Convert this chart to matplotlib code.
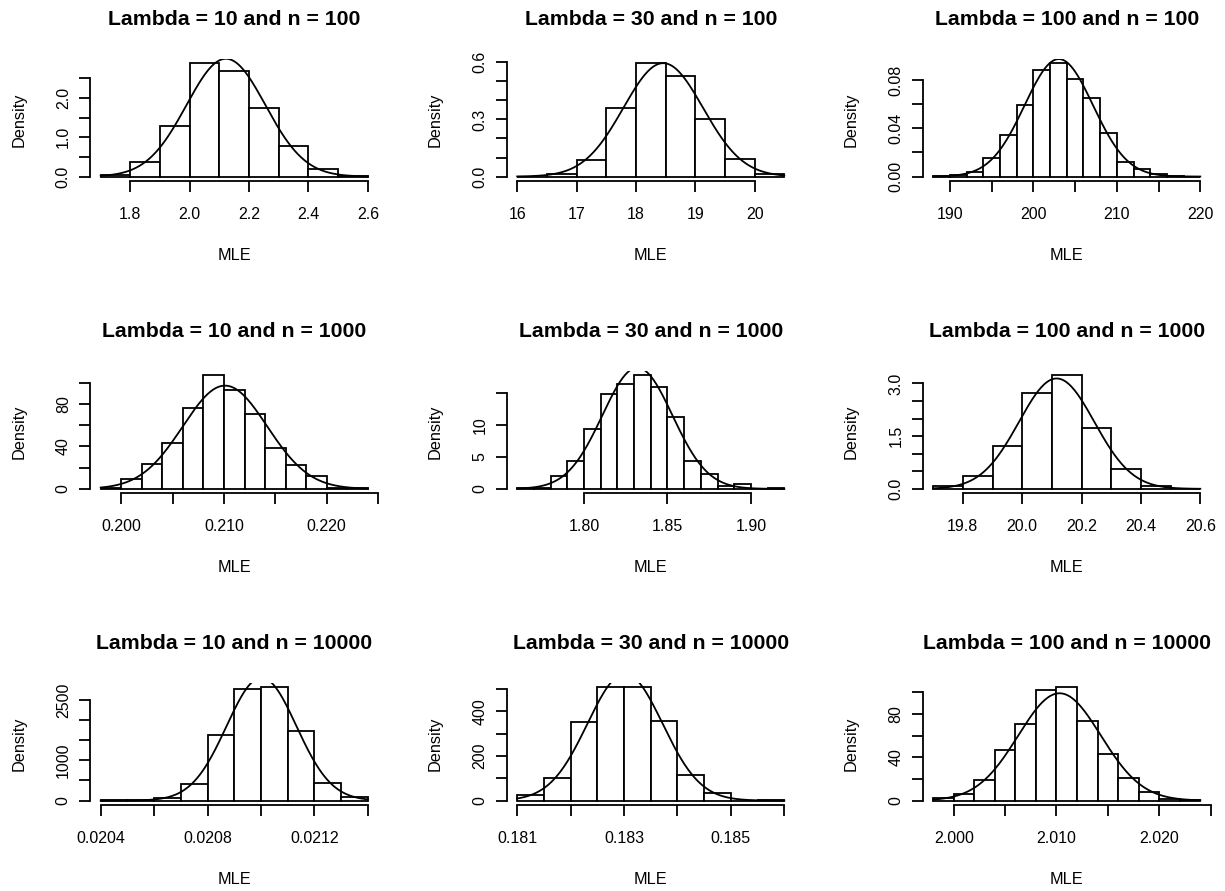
import numpy as np
import matplotlib
matplotlib.use('Agg')
import matplotlib.pyplot as plt

plt.rcParams['font.family'] = ['Liberation Sans', 'DejaVu Sans']

# ---------------- data ----------------
titles = [
    "Lambda = 10 and n = 100", "Lambda = 30 and n = 100", "Lambda = 100 and n = 100",
    "Lambda = 10 and n = 1000", "Lambda = 30 and n = 1000", "Lambda = 100 and n = 1000",
    "Lambda = 10 and n = 10000", "Lambda = 30 and n = 10000", "Lambda = 100 and n = 10000",
]

# histogram break points and densities (per panel)
breaks_1 = [1.7, 1.8, 1.9, 2.0, 2.1, 2.2, 2.3, 2.4, 2.5, 2.6]
density_1 = [0.04, 0.36, 1.29, 2.89, 2.70, 1.75, 0.78, 0.18, 0.01]

breaks_2 = [16.0, 16.5, 17.0, 17.5, 18.0, 18.5, 19.0, 19.5, 20.0, 20.5]
density_2 = [0.0, 0.014, 0.088, 0.362, 0.596, 0.530, 0.300, 0.090, 0.016]

breaks_3 = [188, 190, 192, 194, 196, 198, 200, 202, 204, 206, 208, 210, 212, 214, 216, 218, 220]
density_3 = [0.0005, 0.001, 0.004, 0.015, 0.034, 0.059, 0.088, 0.094, 0.081, 0.065,
             0.036, 0.012, 0.006, 0.002, 0.0005, 0.0]

breaks_4 = [0.198, 0.200, 0.202, 0.204, 0.206, 0.208, 0.210, 0.212, 0.214, 0.216,
            0.218, 0.220, 0.222, 0.224]
density_4 = [1.0, 9.0, 23.5, 43.5, 76.5, 107.0, 93.0, 71.0, 38.5, 22.5, 12.5, 1.0, 0.5]

breaks_5 = [1.76, 1.77, 1.78, 1.79, 1.80, 1.81, 1.82, 1.83, 1.84, 1.85, 1.86, 1.87,
            1.88, 1.89, 1.90, 1.91, 1.92]
density_5 = [0.1, 0.2, 2.0, 4.3, 9.4, 14.8, 16.5, 17.8, 15.9, 11.2, 4.3, 2.4, 0.4, 0.7, 0.0, 0.1]

breaks_6 = [19.7, 19.8, 19.9, 20.0, 20.1, 20.2, 20.3, 20.4, 20.5, 20.6]
density_6 = [0.09, 0.36, 1.22, 2.72, 3.23, 1.74, 0.56, 0.08, 0.01]

breaks_7 = [0.0204, 0.0205, 0.0206, 0.0207, 0.0208, 0.0209, 0.0210, 0.0211, 0.0212,
            0.0213, 0.0214]
density_7 = [10, 20, 70, 410, 1640, 2760, 2820, 1720, 440, 100]

breaks_8 = [0.1810, 0.1815, 0.1820, 0.1825, 0.1830, 0.1835, 0.1840, 0.1845, 0.1850,
            0.1855, 0.1860]
density_8 = [26, 102, 350, 508, 508, 358, 114, 32, 0, 2]

breaks_9 = [1.998, 2.000, 2.002, 2.004, 2.006, 2.008, 2.010, 2.012, 2.014, 2.016,
            2.018, 2.020, 2.022, 2.024]
density_9 = [2.0, 6.0, 19.0, 47.0, 71.0, 102.0, 105.0, 73.5, 43.0, 21.0, 8.0, 1.0, 0.5]

breaks_all = [breaks_1, breaks_2, breaks_3, breaks_4, breaks_5, breaks_6, breaks_7, breaks_8, breaks_9]
density_all = [density_1, density_2, density_3, density_4, density_5, density_6, density_7, density_8, density_9]

# fitted normal curve parameters (mean, sd)
curve_mean = [2.122, 18.46, 203.05, 0.2101, 1.832, 20.116, 0.021002, 0.1830185, 2.0103]
curve_sd = [0.133, 0.67, 4.1, 0.0041, 0.021, 0.127, 0.0001307, 0.000704, 0.00402]

# axis ticks and labels
xticks_all = [
    [1.8, 2.0, 2.2, 2.4, 2.6],
    [16, 17, 18, 19, 20],
    [190, 195, 200, 205, 210, 215, 220],
    [0.200, 0.205, 0.210, 0.215, 0.220, 0.225],
    [1.80, 1.85, 1.90],
    [19.8, 20.0, 20.2, 20.4, 20.6],
    [0.0204, 0.0206, 0.0208, 0.0210, 0.0212, 0.0214],
    [0.181, 0.182, 0.183, 0.184, 0.185, 0.186],
    [2.000, 2.005, 2.010, 2.015, 2.020, 2.025],
]
xlabels_all = [
    ["1.8", "2.0", "2.2", "2.4", "2.6"],
    ["16", "17", "18", "19", "20"],
    ["190", "", "200", "", "210", "", "220"],
    ["0.200", "", "0.210", "", "0.220", ""],
    ["1.80", "1.85", "1.90"],
    ["19.8", "20.0", "20.2", "20.4", "20.6"],
    ["0.0204", "", "0.0208", "", "0.0212", ""],
    ["0.181", "", "0.183", "", "0.185", ""],
    ["2.000", "", "2.010", "", "2.020", ""],
]
yticks_all = [
    [0.0, 0.5, 1.0, 1.5, 2.0, 2.5],
    [0.0, 0.1, 0.2, 0.3, 0.4, 0.5, 0.6],
    [0.00, 0.02, 0.04, 0.06, 0.08],
    [0, 20, 40, 60, 80, 100],
    [0, 5, 10, 15],
    [0.0, 0.5, 1.0, 1.5, 2.0, 2.5, 3.0],
    [0, 500, 1000, 1500, 2000, 2500],
    [0, 100, 200, 300, 400, 500],
    [0, 20, 40, 60, 80, 100],
]
ylabels_all = [
    ["0.0", "", "1.0", "", "2.0", ""],
    ["0.0", "", "", "0.3", "", "", "0.6"],
    ["0.00", "", "0.04", "", "0.08"],
    ["0", "", "40", "", "80", ""],
    ["0", "5", "10", ""],
    ["0.0", "", "", "1.5", "", "", "3.0"],
    ["0", "", "1000", "", "", "2500"],
    ["0", "", "200", "", "400", ""],
    ["0", "", "40", "", "80", ""],
]

# ---------------- layout ----------------
W, H = 1225, 891
fig = plt.figure(figsize=(W / 100, H / 100), dpi=100)
fig.patch.set_facecolor('white')

col_left = [90.0, 506.5, 922.5]
row_top = [58.5, 370.8, 682.5]
ax_w, ax_h = 288.5, 122.6
LW = 1.3
PX = 0.72  # points per pixel at dpi 100

for i in range(9):
    r, c = divmod(i, 3)
    l, t = col_left[c], row_top[r]
    ax = fig.add_axes([l / W, 1 - (t + ax_h) / H, ax_w / W, ax_h / H])
    ax.patch.set_alpha(0)

    br = np.array(breaks_all[i], dtype=float)
    dens = np.array(density_all[i], dtype=float)
    ax.bar(br[:-1], dens, width=np.diff(br), align='edge', facecolor='white',
           edgecolor='black', linewidth=LW, zorder=2)

    xs = np.linspace(br[0], br[-1], 400)
    m, s = curve_mean[i], curve_sd[i]
    ys = np.exp(-0.5 * ((xs - m) / s) ** 2) / (s * np.sqrt(2 * np.pi))
    ax.plot(xs, ys, color='black', linewidth=LW, zorder=3)

    xr = br[-1] - br[0]
    ax.set_xlim(br[0] - 0.04 * xr, br[-1] + 0.04 * xr)
    ymax = dens.max()
    ax.set_ylim(-0.04 * ymax, 1.04 * ymax)

    for side in ['top', 'right']:
        ax.spines[side].set_visible(False)
    for side in ['left', 'bottom']:
        ax.spines[side].set_linewidth(LW)
    xt, yt = xticks_all[i], yticks_all[i]
    ax.spines['bottom'].set_bounds(xt[0], xt[-1])
    ax.spines['left'].set_bounds(yt[0], yt[-1])

    ax.set_xticks(xt)
    ax.set_xticklabels(xlabels_all[i])
    ax.set_yticks(yt)
    ax.set_yticklabels(ylabels_all[i], rotation=90, va='center')
    ax.tick_params(axis='both', length=7.8, width=LW, labelsize=11.5, direction='out')
    ax.tick_params(axis='x', pad=10.5)
    ax.tick_params(axis='y', pad=6.0)

    ax.annotate(titles[i], xy=(0.5, 1), xycoords='axes fraction',
                xytext=(0, 33.5 * PX), textcoords='offset points',
                ha='center', va='baseline', fontsize=15.3, fontweight='bold')
    ax.annotate('MLE', xy=(0.5, 0), xycoords='axes fraction',
                xytext=(0, -78.7 * PX), textcoords='offset points',
                ha='center', va='baseline', fontsize=11.7)
    ax.annotate('Density', xy=(0, 0.5), xycoords='axes fraction',
                xytext=(-71 * PX, 0), textcoords='offset points',
                ha='center', va='center', rotation=90, fontsize=11.7)

fig.savefig('out.png', dpi=100, facecolor='white')
